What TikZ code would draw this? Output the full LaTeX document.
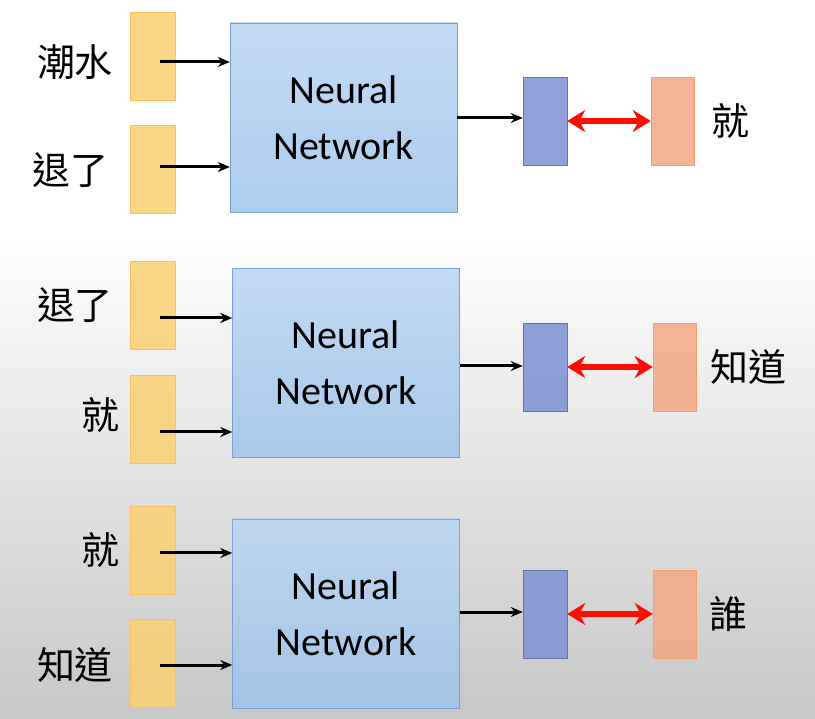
\documentclass[tikz,border=0pt]{standalone}
\usepackage{fontspec}
\setmainfont{Carlito}
\newfontfamily\cjk{Noto Sans CJK TC}
\usetikzlibrary{arrows.meta}
\definecolor{nnf}{RGB}{160,196,235}
\definecolor{nnt}{RGB}{185,212,242}
\definecolor{nnd}{RGB}{120,160,210}
\definecolor{ob}{RGB}{125,145,212}
\definecolor{tg}{RGB}{242,168,135}
\definecolor{yl}{RGB}{250,208,115}
\begin{document}
\begin{tikzpicture}[x=1pt,y=-1pt,
  inp/.style={draw=yl!80!orange,fill=yl,fill opacity=0.85,minimum width=45pt,minimum height=88pt,inner sep=0pt},
  nn/.style={draw=nnd,top color=nnt,bottom color=nnf,fill opacity=0.85,text opacity=1,minimum width=227pt,minimum height=189pt,align=center,font=\fontsize{40}{56}\selectfont},
  outb/.style={draw=ob!80!black,fill=ob,fill opacity=0.85,minimum width=44pt,minimum height=88pt,inner sep=0pt},
  tgt/.style={draw=tg!80!orange,fill=tg,fill opacity=0.85,minimum width=43pt,minimum height=88pt,inner sep=0pt},
  lab/.style={font=\cjk\fontsize{38}{44}\selectfont},
  arr/.style={-{Stealth[length=12pt,width=10pt]},line width=3pt},
  rarr/.style={{Stealth[length=18pt,width=22pt]}-{Stealth[length=18pt,width=22pt]},line width=6pt,red!90!orange}]
\useasboundingbox (0,0) rectangle (815,719);
\shade[top color=white,bottom color=black!22] (0,230) rectangle (815,719);
\fill[white] (0,0) rectangle (815,230);
% row 1
\node[inp] (a1) at (152.5,56) {};
\node[inp] (a2) at (152.5,169) {};
\node[nn] (n1) at (343.5,117.5) {Neural\\Network};
\node[outb] (o1) at (545,121) {};
\node[tgt] (t1) at (672.5,121) {};
\node[lab] (l11) at (75,62) {潮水};
\node[lab] (l12) at (70,170) {退了};
\node[lab] (r1) at (730,121) {就};
\coordinate (s11) at (160,62); \coordinate (s12) at (160,167);
\draw[arr] (s11) -- (s11 -| n1.west);
\draw[arr] (s12) -- (s12 -| n1.west);
\draw[arr] (n1.east |- 0,118) -- (o1.west |- 0,118);
\draw[rarr] (o1.east) -- (t1.west);
% row 2
\node[inp] (b1) at (152.5,305) {};
\node[inp] (b2) at (152.5,419) {};
\node[nn] (n2) at (346,363) {Neural\\Network};
\node[outb] (o2) at (545,367) {};
\node[tgt] (t2) at (674.5,367) {};
\node[lab] (l21) at (75,305) {退了};
\node[lab] (l22) at (100,415) {就};
\node[lab] (r2) at (748,367) {知道};
\coordinate (s21) at (160,318); \coordinate (s22) at (160,432);
\draw[arr] (s21) -- (s21 -| n2.west);
\draw[arr] (s22) -- (s22 -| n2.west);
\draw[arr] (n2.east |- 0,366) -- (o2.west |- 0,366);
\draw[rarr] (o2.east) -- (t2.west);
% row 3
\node[inp] (c1) at (152.5,550) {};
\node[inp] (c2) at (152.5,663) {};
\node[nn] (n3) at (346,613.5) {Neural\\Network};
\node[outb] (o3) at (545,614) {};
\node[tgt] (t3) at (674.5,614) {};
\node[lab] (l31) at (100,550) {就};
\node[lab] (l32) at (75,665) {知道};
\node[lab] (r3) at (728,614) {誰};
\coordinate (s31) at (160,553); \coordinate (s32) at (160,665);
\draw[arr] (s31) -- (s31 -| n3.west);
\draw[arr] (s32) -- (s32 -| n3.west);
\draw[arr] (n3.east |- 0,612) -- (o3.west |- 0,612);
\draw[rarr] (o3.east) -- (t3.west);
\end{tikzpicture}
\end{document}
